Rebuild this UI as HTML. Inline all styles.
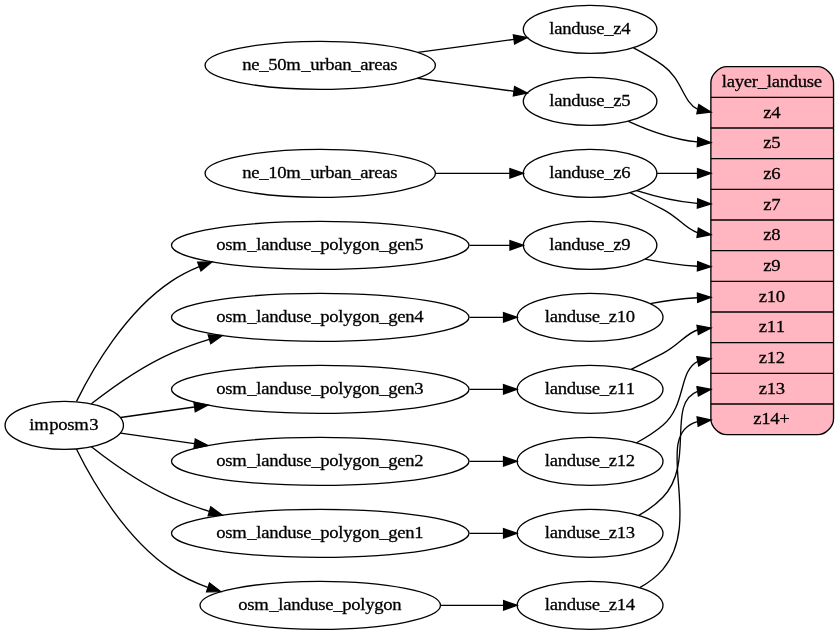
<!DOCTYPE html>
<html><head><meta charset="utf-8"><style>
html,body{margin:0;padding:0;background:#fff;}
svg{display:block;will-change:transform;}
text{stroke:#000;stroke-width:0.3px;stroke-linejoin:round;}
text{font-family:"Liberation Serif",serif;font-size:18.6667px;}
</style></head><body>
<svg width="839" height="635" viewBox="0 0 839 635">
<g id="graph0" class="graph" transform="scale(1.3333333) translate(4 472)">
<polygon fill="white" stroke="none" points="-4,4 -4,-472 625.16,-472 625.16,4 -4,4"/>
<ellipse fill="none" stroke="black" cx="44.2" cy="-153" rx="44.39" ry="18"/>
<ellipse fill="none" stroke="black" cx="236.18" cy="-288" rx="111.58" ry="18"/>
<path fill="none" stroke="black" d="M53.39,-170.98C65.41,-195.27 90.16,-238.15 124.39,-261 130.88,-265.33 137.99,-268.96 145.38,-272.02"/>
<polygon fill="black" stroke="black" points="144.27,-275.34 154.86,-275.58 146.73,-268.79 144.27,-275.34"/>
<ellipse fill="none" stroke="black" cx="236.18" cy="-234" rx="111.58" ry="18"/>
<path fill="none" stroke="black" d="M64.52,-169.12C79.87,-181.17 102.35,-197.19 124.39,-207 133.41,-211.01 143.12,-214.49 152.91,-217.48"/>
<polygon fill="black" stroke="black" points="152.13,-220.9 162.71,-220.32 154.08,-214.18 152.13,-220.9"/>
<ellipse fill="none" stroke="black" cx="236.18" cy="-180" rx="111.58" ry="18"/>
<path fill="none" stroke="black" d="M86.42,-158.86C102.78,-161.18 122.3,-163.96 141.75,-166.72"/>
<polygon fill="black" stroke="black" points="141.49,-170.22 151.89,-168.16 142.48,-163.29 141.49,-170.22"/>
<ellipse fill="none" stroke="black" cx="236.18" cy="-126" rx="111.58" ry="18"/>
<path fill="none" stroke="black" d="M86.42,-147.14C102.78,-144.82 122.3,-142.04 141.75,-139.28"/>
<polygon fill="black" stroke="black" points="142.48,-142.71 151.89,-137.84 141.49,-135.78 142.48,-142.71"/>
<ellipse fill="none" stroke="black" cx="236.18" cy="-72" rx="111.58" ry="18"/>
<path fill="none" stroke="black" d="M64.52,-136.88C79.87,-124.83 102.35,-108.81 124.39,-99 133.41,-94.99 143.12,-91.51 152.91,-88.52"/>
<polygon fill="black" stroke="black" points="154.08,-91.82 162.71,-85.68 152.13,-85.1 154.08,-91.82"/>
<ellipse fill="none" stroke="black" cx="236.18" cy="-18" rx="90.18" ry="18"/>
<path fill="none" stroke="black" d="M53.39,-135.02C65.41,-110.73 90.16,-67.85 124.39,-45 132.73,-39.44 142.1,-35.02 151.77,-31.51"/>
<polygon fill="black" stroke="black" points="153.12,-34.75 161.52,-28.29 150.92,-28.1 153.12,-34.75"/>
<ellipse fill="none" stroke="black" cx="438.57" cy="-288" rx="50.09" ry="18"/>
<path fill="none" stroke="black" d="M348.22,-288C358.56,-288 368.75,-288 378.34,-288"/>
<polygon fill="black" stroke="black" points="378.48,-291.5 388.48,-288 378.48,-284.5 378.48,-291.5"/>
<ellipse fill="none" stroke="black" cx="438.57" cy="-234" rx="54.69" ry="18"/>
<path fill="none" stroke="black" d="M348.22,-234C356.85,-234 365.38,-234 373.53,-234"/>
<polygon fill="black" stroke="black" points="373.65,-237.5 383.65,-234 373.65,-230.5 373.65,-237.5"/>
<ellipse fill="none" stroke="black" cx="438.57" cy="-180" rx="54.69" ry="18"/>
<path fill="none" stroke="black" d="M348.22,-180C356.85,-180 365.38,-180 373.53,-180"/>
<polygon fill="black" stroke="black" points="373.65,-183.5 383.65,-180 373.65,-176.5 373.65,-183.5"/>
<ellipse fill="none" stroke="black" cx="438.57" cy="-126" rx="54.69" ry="18"/>
<path fill="none" stroke="black" d="M348.22,-126C356.85,-126 365.38,-126 373.53,-126"/>
<polygon fill="black" stroke="black" points="373.65,-129.5 383.65,-126 373.65,-122.5 373.65,-129.5"/>
<ellipse fill="none" stroke="black" cx="438.57" cy="-72" rx="54.69" ry="18"/>
<path fill="none" stroke="black" d="M348.22,-72C356.85,-72 365.38,-72 373.53,-72"/>
<polygon fill="black" stroke="black" points="373.65,-75.5 383.65,-72 373.65,-68.5 373.65,-75.5"/>
<ellipse fill="none" stroke="black" cx="438.57" cy="-18" rx="54.69" ry="18"/>
<path fill="none" stroke="black" d="M326.53,-18C342.39,-18 358.61,-18 373.59,-18"/>
<polygon fill="black" stroke="black" points="373.74,-21.5 383.74,-18 373.74,-14.5 373.74,-21.5"/>
<ellipse fill="none" stroke="black" cx="236.18" cy="-423" rx="86.38" ry="18"/>
<ellipse fill="none" stroke="black" cx="438.57" cy="-450" rx="50.09" ry="18"/>
<path fill="none" stroke="black" d="M309.24,-432.71C332.98,-435.91 359.02,-439.42 381.4,-442.43"/>
<polygon fill="black" stroke="black" points="381.02,-445.91 391.4,-443.78 381.96,-438.98 381.02,-445.91"/>
<ellipse fill="none" stroke="black" cx="438.57" cy="-396" rx="50.09" ry="18"/>
<path fill="none" stroke="black" d="M309.24,-413.29C332.98,-410.09 359.02,-406.58 381.4,-403.57"/>
<polygon fill="black" stroke="black" points="381.96,-407.02 391.4,-402.22 381.02,-400.09 381.96,-407.02"/>
<path fill="lightpink" stroke="black" d="M541.16,-146C541.16,-146 609.16,-146 609.16,-146 615.16,-146 621.16,-152 621.16,-158 621.16,-158 621.16,-410 621.16,-410 621.16,-416 615.16,-422 609.16,-422 609.16,-422 541.16,-422 541.16,-422 535.16,-422 529.16,-416 529.16,-410 529.16,-410 529.16,-158 529.16,-158 529.16,-152 535.16,-146 541.16,-146"/>
<polyline fill="none" stroke="black" points="529.16,-399 621.16,-399 "/>
<polyline fill="none" stroke="black" points="529.16,-376 621.16,-376 "/>
<polyline fill="none" stroke="black" points="529.16,-353 621.16,-353 "/>
<polyline fill="none" stroke="black" points="529.16,-330 621.16,-330 "/>
<polyline fill="none" stroke="black" points="529.16,-307 621.16,-307 "/>
<polyline fill="none" stroke="black" points="529.16,-284 621.16,-284 "/>
<polyline fill="none" stroke="black" points="529.16,-261 621.16,-261 "/>
<polyline fill="none" stroke="black" points="529.16,-238 621.16,-238 "/>
<polyline fill="none" stroke="black" points="529.16,-215 621.16,-215 "/>
<polyline fill="none" stroke="black" points="529.16,-192 621.16,-192 "/>
<polyline fill="none" stroke="black" points="529.16,-169 621.16,-169 "/>
<path fill="none" stroke="black" d="M471.11,-436.12C478.59,-432.29 486.37,-427.84 493.16,-423 507.93,-412.48 507.73,-395.95 519.11,-390.12"/>
<polygon fill="black" stroke="black" points="520.1,-393.49 529.16,-388 518.66,-386.64 520.1,-393.49"/>
<path fill="none" stroke="black" d="M467.37,-381.04C481.95,-374.36 500.57,-367.53 518.98,-365.56"/>
<polygon fill="black" stroke="black" points="519.37,-369.05 529.16,-365 518.98,-362.06 519.37,-369.05"/>
<ellipse fill="none" stroke="black" cx="236.18" cy="-342" rx="86.38" ry="18"/>
<ellipse fill="none" stroke="black" cx="438.57" cy="-342" rx="50.09" ry="18"/>
<path fill="none" stroke="black" d="M322.74,-342C341.51,-342 360.97,-342 378.42,-342"/>
<polygon fill="black" stroke="black" points="378.45,-345.5 388.45,-342 378.45,-338.5 378.45,-345.5"/>
<path fill="none" stroke="black" d="M488.86,-342C498.58,-342 508.88,-342 518.88,-342"/>
<polygon fill="black" stroke="black" points="519.16,-345.5 529.16,-342 519.16,-338.5 519.16,-345.5"/>
<path fill="none" stroke="black" d="M473.51,-329.02C487.07,-324.74 503.19,-320.74 518.92,-319.44"/>
<polygon fill="black" stroke="black" points="519.32,-322.93 529.16,-319 519.02,-315.93 519.32,-322.93"/>
<path fill="none" stroke="black" d="M468.55,-327.53C476.54,-323.5 485.2,-319.11 493.16,-315 505.6,-308.59 509.51,-300.73 519.02,-297.5"/>
<polygon fill="black" stroke="black" points="519.78,-300.92 529.16,-296 518.76,-294 519.78,-300.92"/>
<path fill="none" stroke="black" d="M479.88,-277.69C492.09,-275.22 505.8,-273.07 519.1,-272.3"/>
<polygon fill="black" stroke="black" points="519.27,-275.8 529.16,-272 519.06,-268.8 519.27,-275.8"/>
<path fill="none" stroke="black" d="M483.53,-244.34C494.7,-246.35 506.93,-248.04 518.83,-248.7"/>
<polygon fill="black" stroke="black" points="519.07,-252.21 529.16,-249 519.27,-245.21 519.07,-252.21"/>
<path fill="none" stroke="black" d="M469.38,-194.9C477.14,-198.8 485.48,-203.04 493.16,-207 505.6,-213.41 509.51,-221.27 519.02,-224.5"/>
<polygon fill="black" stroke="black" points="518.76,-228 529.16,-226 519.78,-221.08 518.76,-228"/>
<path fill="none" stroke="black" d="M473.43,-139.95C480.35,-143.63 487.3,-147.99 493.16,-153 510.9,-168.14 504.68,-193.75 519.35,-201.02"/>
<polygon fill="black" stroke="black" points="518.67,-204.46 529.16,-203 520.05,-197.59 518.67,-204.46"/>
<path fill="none" stroke="black" d="M475.09,-85.53C481.67,-89.18 488.06,-93.64 493.16,-99 517.58,-124.63 495.38,-169.59 519.19,-178.46"/>
<polygon fill="black" stroke="black" points="518.74,-181.93 529.16,-180 519.82,-175.01 518.74,-181.93"/>
<path fill="none" stroke="black" d="M475.83,-31.27C482.27,-34.93 488.42,-39.46 493.16,-45 524.63,-81.79 483.87,-146.45 519.14,-155.85"/>
<polygon fill="black" stroke="black" points="518.83,-159.34 529.16,-157 519.63,-152.38 518.83,-159.34"/>
</g>
<text x="29.37 34.37 49.37 58.37 67.37 74.37 89.37" y="430.27" transform="matrix(1 0 0 0.95 0 21.513)">imposm3</text>
<text x="216.34 225.34 232.34 247.34 256.34 261.34 269.34 278.34 287.34 296.34 303.34 311.34 320.34 329.34 338.34 343.34 352.34 361.34 370.34 379.34 388.34 397.34 405.34 414.34" y="250.27" transform="matrix(1 0 0 0.95 0 12.513)">osm_landuse_polygon_gen5</text>
<text x="216.34 225.34 232.34 247.34 256.34 261.34 269.34 278.34 287.34 296.34 303.34 311.34 320.34 329.34 338.34 343.34 352.34 361.34 370.34 379.34 388.34 397.34 405.34 414.34" y="322.27" transform="matrix(1 0 0 0.95 0 16.113)">osm_landuse_polygon_gen4</text>
<text x="216.34 225.34 232.34 247.34 256.34 261.34 269.34 278.34 287.34 296.34 303.34 311.34 320.34 329.34 338.34 343.34 352.34 361.34 370.34 379.34 388.34 397.34 405.34 414.34" y="394.27" transform="matrix(1 0 0 0.95 0 19.713)">osm_landuse_polygon_gen3</text>
<text x="216.34 225.34 232.34 247.34 256.34 261.34 269.34 278.34 287.34 296.34 303.34 311.34 320.34 329.34 338.34 343.34 352.34 361.34 370.34 379.34 388.34 397.34 405.34 414.34" y="466.27" transform="matrix(1 0 0 0.95 0 23.313)">osm_landuse_polygon_gen2</text>
<text x="216.34 225.34 232.34 247.34 256.34 261.34 269.34 278.34 287.34 296.34 303.34 311.34 320.34 329.34 338.34 343.34 352.34 361.34 370.34 379.34 388.34 397.34 405.34 414.34" y="538.27" transform="matrix(1 0 0 0.95 0 26.913)">osm_landuse_polygon_gen1</text>
<text x="238.34 247.34 254.34 269.34 278.34 283.34 291.34 300.34 309.34 318.34 325.34 333.34 342.34 351.34 360.34 365.34 374.34 383.34 392.34" y="610.27" transform="matrix(1 0 0 0.95 0 30.513)">osm_landuse_polygon</text>
<text x="549.19 554.19 562.19 571.19 580.19 589.19 596.19 604.19 613.19 621.19" y="250.27" transform="matrix(1 0 0 0.95 0 12.513)">landuse_z9</text>
<text x="544.69 549.69 557.69 566.69 575.69 584.69 591.69 599.69 608.69 616.69 625.69" y="322.27" transform="matrix(1 0 0 0.95 0 16.113)">landuse_z10</text>
<text x="544.69 549.69 557.69 566.69 575.69 584.69 591.69 599.69 608.69 616.69 625.69" y="394.27" transform="matrix(1 0 0 0.95 0 19.713)">landuse_z11</text>
<text x="544.69 549.69 557.69 566.69 575.69 584.69 591.69 599.69 608.69 616.69 625.69" y="466.27" transform="matrix(1 0 0 0.95 0 23.313)">landuse_z12</text>
<text x="544.69 549.69 557.69 566.69 575.69 584.69 591.69 599.69 608.69 616.69 625.69" y="538.27" transform="matrix(1 0 0 0.95 0 26.913)">landuse_z13</text>
<text x="544.69 549.69 557.69 566.69 575.69 584.69 591.69 599.69 608.69 616.69 625.69" y="610.27" transform="matrix(1 0 0 0.95 0 30.513)">landuse_z14</text>
<text x="242.34 251.34 259.34 268.34 277.34 286.34 301.34 310.34 319.34 325.34 334.34 342.34 351.34 360.34 368.34 374.34 382.34 390.34" y="70.27" transform="matrix(1 0 0 0.95 0 3.513)">ne_50m_urban_areas</text>
<text x="549.19 554.19 562.19 571.19 580.19 589.19 596.19 604.19 613.19 621.19" y="34.27" transform="matrix(1 0 0 0.95 0 1.713)">landuse_z4</text>
<text x="549.19 554.19 562.19 571.19 580.19 589.19 596.19 604.19 613.19 621.19" y="106.27" transform="matrix(1 0 0 0.95 0 5.313)">landuse_z5</text>
<text x="721.81 726.81 734.81 743.81 751.81 757.81 766.81 771.81 779.81 788.81 797.81 806.81 813.81" y="86.93" transform="matrix(1 0 0 0.95 0 4.347)">layer_landuse</text>
<text x="763.31 771.31" y="117.60" transform="matrix(1 0 0 0.95 0 5.880)">z4</text>
<text x="763.31 771.31" y="148.27" transform="matrix(1 0 0 0.95 0 7.413)">z5</text>
<text x="763.31 771.31" y="178.93" transform="matrix(1 0 0 0.95 0 8.947)">z6</text>
<text x="763.31 771.31" y="209.60" transform="matrix(1 0 0 0.95 0 10.480)">z7</text>
<text x="763.31 771.31" y="240.27" transform="matrix(1 0 0 0.95 0 12.013)">z8</text>
<text x="763.31 771.31" y="270.93" transform="matrix(1 0 0 0.95 0 13.547)">z9</text>
<text x="758.81 766.81 775.81" y="301.60" transform="matrix(1 0 0 0.95 0 15.080)">z10</text>
<text x="758.81 766.81 775.81" y="332.27" transform="matrix(1 0 0 0.95 0 16.613)">z11</text>
<text x="758.81 766.81 775.81" y="362.93" transform="matrix(1 0 0 0.95 0 18.147)">z12</text>
<text x="758.81 766.81 775.81" y="393.60" transform="matrix(1 0 0 0.95 0 19.680)">z13</text>
<text x="753.31 761.31 770.31 779.31" y="424.27" transform="matrix(1 0 0 0.95 0 21.213)">z14+</text>
<text x="242.34 251.34 259.34 268.34 277.34 286.34 301.34 310.34 319.34 325.34 334.34 342.34 351.34 360.34 368.34 374.34 382.34 390.34" y="178.27" transform="matrix(1 0 0 0.95 0 8.913)">ne_10m_urban_areas</text>
<text x="549.19 554.19 562.19 571.19 580.19 589.19 596.19 604.19 613.19 621.19" y="178.27" transform="matrix(1 0 0 0.95 0 8.913)">landuse_z6</text>
</svg>
</body></html>
